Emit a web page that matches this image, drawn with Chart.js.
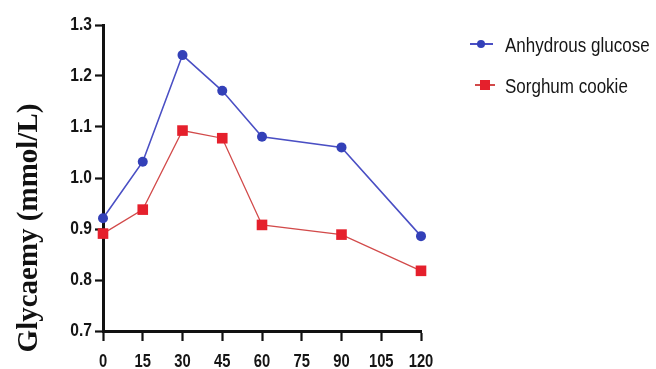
<!DOCTYPE html>
<html>
<head>
<meta charset="utf-8">
<script src="https://cdn.jsdelivr.net/npm/chart.js@4/dist/chart.umd.min.js"></script>
<style>
html,body{margin:0;padding:0;background:#fff;}
#wrap{width:656px;height:369px;position:relative;}
</style>
</head>
<body>
<div id="wrap"><canvas id="c" width="656" height="369"></canvas></div>
<script>
const timePoints = [0, 15, 30, 45, 60, 90, 120];
const glucoseValues = [0.921, 1.032, 1.241, 1.171, 1.081, 1.060, 0.886];
const cookieValues = [0.891, 0.938, 1.093, 1.078, 0.908, 0.889, 0.818];
const seriesNames = ["Anhydrous glucose", "Sorghum cookie"];
const yTitle = "Glycaemy (mmol/L)";

const blue = "#3340b8", blueLine = "#4a4fc4";
const red = "#e5202c", redLine = "#d24a4a";
const sans = "'Liberation Sans', Arial, sans-serif";

const toXY = (vals) => timePoints.map((t, i) => ({x: t, y: vals[i]}));

function narrowText(ctx, text, x, y, font, align, sx) {
  ctx.save();
  ctx.font = font + " " + sans;
  ctx.fillStyle = "#151515";
  ctx.textBaseline = "middle";
  ctx.textAlign = align;
  ctx.translate(x, y);
  ctx.scale(sx, 1);
  ctx.fillText(text, 0, 0);
  ctx.restore();
}

const extras = {
  id: 'extras',
  afterDraw(chart) {
    const ctx = chart.ctx;
    const xs = chart.scales.x, ys = chart.scales.y;
    // tick labels (narrow)
    xs.ticks.forEach(t => {
      narrowText(ctx, String(t.value), xs.getPixelForValue(t.value), 362, "bold 18px", "center", 0.82);
    });
    ys.ticks.forEach(t => {
      narrowText(ctx, Number(t.value).toFixed(1), 92, ys.getPixelForValue(t.value), "bold 19px", "right", 0.82);
    });
    // y title
    ctx.save();
    ctx.translate(30, 228);
    ctx.rotate(-Math.PI / 2);
    ctx.font = "bold 29px 'Liberation Serif', 'Times New Roman', serif";
    ctx.fillStyle = "#111";
    ctx.textAlign = "center";
    ctx.textBaseline = "middle";
    ctx.fillText(yTitle, 0, 0);
    ctx.restore();
    // legend
    const items = [
      {y: 44, x0: 470, x1: 493, mx: 481, ds: chart.data.datasets[0]},
      {y: 85, x0: 475, x1: 495, mx: 485, ds: chart.data.datasets[1]}
    ];
    items.forEach((it, i) => {
      ctx.save();
      ctx.strokeStyle = it.ds.borderColor;
      ctx.lineWidth = 2;
      ctx.beginPath(); ctx.moveTo(it.x0, it.y); ctx.lineTo(it.x1, it.y); ctx.stroke();
      ctx.fillStyle = it.ds.pointBackgroundColor;
      if (i === 0) {
        ctx.beginPath(); ctx.arc(it.mx, it.y, 4, 0, Math.PI * 2); ctx.fill();
      } else {
        ctx.fillRect(it.mx - 5, it.y - 5, 10, 10);
      }
      ctx.restore();
      narrowText(ctx, seriesNames[i], 505, it.y + 2, "20px", "left", 0.85);
    });
  }
};

new Chart(document.getElementById('c'), {
  type: 'line',
  data: {
    datasets: [
      {
        label: seriesNames[0],
        data: toXY(glucoseValues),
        borderColor: blueLine,
        borderWidth: 1.6,
        pointStyle: 'circle',
        pointRadius: 5,
        pointBackgroundColor: blue,
        pointBorderColor: blue,
        pointBorderWidth: 0,
        clip: false,
        tension: 0
      },
      {
        label: seriesNames[1],
        data: toXY(cookieValues),
        borderColor: redLine,
        borderWidth: 1.3,
        pointStyle: 'rect',
        pointRadius: 7.5,
        pointBackgroundColor: red,
        pointBorderColor: red,
        pointBorderWidth: 0,
        clip: false,
        tension: 0
      }
    ]
  },
  options: {
    responsive: false,
    animation: false,
    devicePixelRatio: 1,
    layout: {padding: {left: 0, top: 25, right: 235, bottom: 0}},
    plugins: {legend: {display: false}, tooltip: {enabled: false}},
    scales: {
      x: {
        type: 'linear',
        min: 0, max: 120,
        ticks: {stepSize: 15, display: false},
        grid: {drawOnChartArea: false, drawTicks: true, tickLength: 10, tickColor: '#111', tickWidth: 2.2, color: '#111'},
        border: {display: true, color: '#111', width: 3},
        afterFit(s) { s.height = 38; }
      },
      y: {
        min: 0.7, max: 1.3,
        ticks: {stepSize: 0.1, display: false},
        grid: {drawOnChartArea: false, drawTicks: true, tickLength: 8, tickColor: '#111', tickWidth: 2.2, color: '#111'},
        border: {display: true, color: '#111', width: 3},
        afterFit(s) { s.width = 103; }
      }
    }
  },
  plugins: [extras]
});
</script>
</body>
</html>
